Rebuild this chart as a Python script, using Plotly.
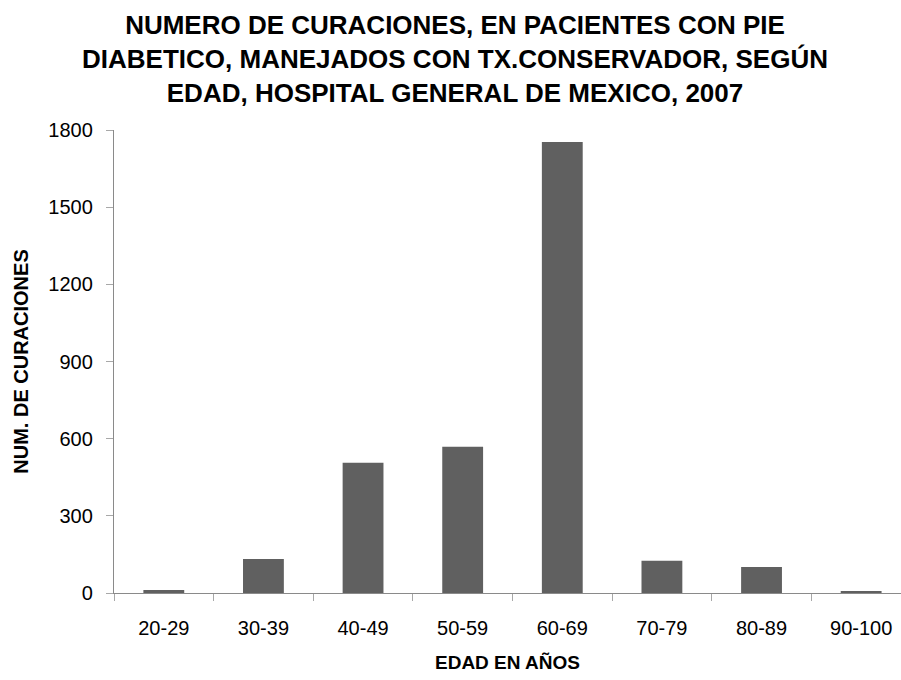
import plotly.graph_objects as go

categories = ["20-29", "30-39", "40-49", "50-59", "60-69", "70-79", "80-89", "90-100"]
curaciones = [12, 132, 506, 569, 1753, 125, 101, 8]
y_ticks = [0, 300, 600, 900, 1200, 1500, 1800]

title_text = ("NUMERO DE CURACIONES, EN PACIENTES CON PIE<br>"
              "DIABETICO, MANEJADOS CON TX.CONSERVADOR, SEGÚN<br>"
              "EDAD, HOSPITAL GENERAL DE MEXICO, 2007")

fig = go.Figure(go.Bar(
    x=categories,
    y=curaciones,
    marker=dict(color="#606060", line=dict(width=0)),
))

fig.update_layout(
    width=901,
    height=680,
    paper_bgcolor="white",
    plot_bgcolor="white",
    margin=dict(l=114, r=0, t=130, b=87),
    bargap=0.59,
    showlegend=False,
    font=dict(family="Liberation Sans, Arial, sans-serif", color="black"),
    title=dict(
        text=title_text,
        x=455 / 901,
        xanchor="center",
        xref="container",
        y=1 - 34 / 680,
        yanchor="middle",
        yref="container",
        font=dict(size=26, family="Liberation Sans, Arial, sans-serif", color="black", weight="bold"),
    ),
    xaxis=dict(
        type="category",
        range=[-0.5, 7.4],
        showline=True,
        linecolor="#8a8a8a",
        linewidth=1.3,
        ticks="outside",
        tickson="boundaries",
        ticklen=7,
        tickcolor="#a8a8a8",
        tickfont=dict(size=20),
        ticklabelstandoff=17,
        showgrid=False,
        zeroline=False,
        title=dict(text="EDAD EN AÑOS", font=dict(size=19, weight="bold"), standoff=17),
    ),
    yaxis=dict(
        range=[0, 1800],
        tickvals=y_ticks,
        showline=True,
        linecolor="#8a8a8a",
        linewidth=1.3,
        ticks="outside",
        ticklen=7,
        tickcolor="#a8a8a8",
        tickfont=dict(size=20),
        ticklabelstandoff=9,
        showgrid=False,
        zeroline=False,
        title=dict(text="NUM. DE CURACIONES", font=dict(size=20, weight="bold"), standoff=14),
    ),
)

fig.write_html("out.html")
